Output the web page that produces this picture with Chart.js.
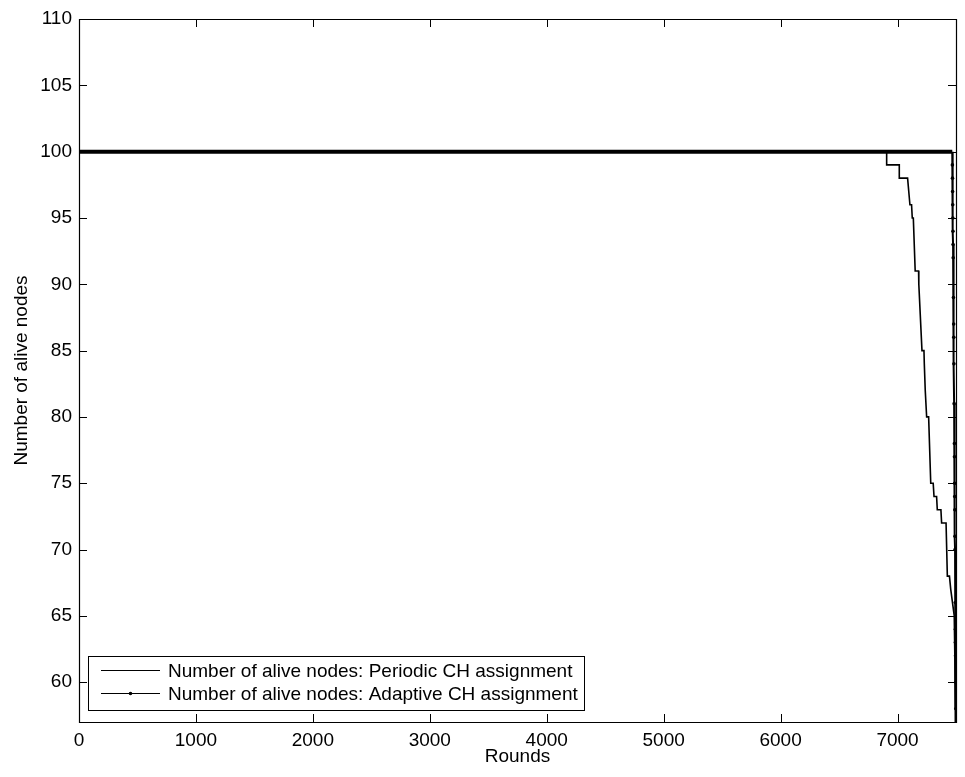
<!DOCTYPE html>
<html>
<head>
<meta charset="utf-8">
<script src="https://cdn.jsdelivr.net/npm/chart.js@4.4.1/dist/chart.umd.min.js"></script>
<style>
  html, body { margin: 0; padding: 0; background: #ffffff; }
  #wrap { width: 965px; height: 777px; position: relative; }
</style>
</head>
<body>
<div id="wrap"><canvas id="c" width="965" height="777"></canvas></div>
<script>
// Alive-node counts per round for the two cluster-head strategies
const periodicRounds = [0, 6907, 6907, 7015, 7015, 7086, 7106, 7120, 7126, 7135, 7151, 7180, 7182, 7209, 7226, 7229, 7237, 7249, 7266, 7284, 7305, 7312, 7334, 7340, 7371, 7377, 7415, 7426, 7444, 7455, 7485, 7490, 7494];
const periodicAlive  = [100, 100, 99, 99, 98, 98, 96, 96, 95, 95, 91, 91, 90, 85, 85, 84, 82, 80, 80, 75, 75, 74, 74, 73, 73, 72, 72, 68, 68, 67, 65, 62, 58];

const adaptiveRounds = [0, 7468, 7469, 7470, 7471, 7472, 7473, 7474, 7475, 7476, 7478, 7480, 7481, 7482, 7484, 7486, 7487, 7488, 7489, 7490, 7491, 7492, 7494, 7495, 7495, 7496, 7497, 7498, 7499];
const adaptiveAlive  = [100, 100, 99, 98, 97, 96, 95, 94, 93, 92, 89, 87, 86, 84, 81, 78, 77, 75, 74, 73, 71, 70, 66, 64, 63, 62, 60, 58, 56];

const seriesLabels = [
  'Number of alive nodes: Periodic CH assignment',
  'Number of alive nodes: Adaptive CH assignment'
];

const xTickValues = [0, 1000, 2000, 3000, 4000, 5000, 6000, 7000];
const yTickValues = [60, 65, 70, 75, 80, 85, 90, 95, 100, 105, 110];

const FONT = '"Liberation Sans", Arial, Helvetica, sans-serif';
const FONT_SIZE = 19;

const toPoints = (xs, ys) => xs.map((x, i) => ({ x: x, y: ys[i] }));

// MATLAB-style frame: full box with inward ticks on all four sides, plus boxed legend
const framePlugin = {
  id: 'frame',
  afterDatasetsDraw(chart) {
    const { ctx, chartArea: a, scales } = chart;
    const tl = 8;
    ctx.save();
    ctx.strokeStyle = '#000';
    ctx.lineWidth = 1.2;
    ctx.beginPath();
    ctx.rect(Math.round(a.left) + 0.5, Math.round(a.top) + 0.5,
             Math.round(a.right - a.left), Math.round(a.bottom - a.top));
    ctx.stroke();
    ctx.lineWidth = 1;
    ctx.beginPath();
    xTickValues.forEach(v => {
      const px = Math.round(scales.x.getPixelForValue(v)) + 0.5;
      ctx.moveTo(px, a.bottom); ctx.lineTo(px, a.bottom - tl);
      ctx.moveTo(px, a.top); ctx.lineTo(px, a.top + tl);
    });
    yTickValues.forEach(v => {
      const py = Math.round(scales.y.getPixelForValue(v)) + 0.5;
      ctx.moveTo(a.left, py); ctx.lineTo(a.left + tl, py);
      ctx.moveTo(a.right, py); ctx.lineTo(a.right - tl, py);
    });
    ctx.stroke();

    // legend box
    ctx.font = FONT_SIZE + 'px ' + FONT;
    const textX = 168;
    const maxW = Math.max(...seriesLabels.map(s => ctx.measureText(s).width));
    const bx = 88.5, by = 656.5, bw = Math.round(textX + maxW + 6 - 88), bh = 54;
    ctx.fillStyle = '#fff';
    ctx.fillRect(bx, by, bw, bh);
    ctx.strokeRect(bx, by, bw, bh);
    const rows = [670.5, 693.5];
    ctx.fillStyle = '#000';
    ctx.textBaseline = 'middle';
    ctx.textAlign = 'left';
    rows.forEach((ry, i) => {
      ctx.beginPath();
      ctx.moveTo(101, ry); ctx.lineTo(160, ry);
      ctx.stroke();
      if (i === 1) {
        ctx.beginPath();
        ctx.arc(130.5, ry, 1.8, 0, Math.PI * 2);
        ctx.fill();
      }
      ctx.fillText(chart.data.datasets[i].label, textX, ry + 1);
    });
    ctx.restore();
  }
};

new Chart(document.getElementById('c'), {
  type: 'line',
  data: {
    datasets: [
      {
        label: seriesLabels[0],
        data: toPoints(periodicRounds, periodicAlive),
        borderColor: '#000',
        borderWidth: 1.6,
        pointRadius: 0,
        tension: 0,
        fill: false
      },
      {
        label: seriesLabels[1],
        data: toPoints(adaptiveRounds, adaptiveAlive),
        borderColor: '#000',
        backgroundColor: '#000',
        borderWidth: 2,
        pointRadius: c => (c.raw && c.raw.y < 100 ? 1.8 : 0),
        pointBorderWidth: 0,
        pointBackgroundColor: '#000',
        tension: 0,
        fill: false,
        segment: {
          borderWidth: s => (s.p0.parsed.y === 100 && s.p1.parsed.y === 100 ? 4 : 2)
        }
      }
    ]
  },
  options: {
    responsive: false,
    animation: false,
    devicePixelRatio: 1,
    layout: { padding: { top: 19, right: 9, left: 0, bottom: 0 } },
    plugins: {
      legend: { display: false },
      tooltip: { enabled: false }
    },
    scales: {
      x: {
        type: 'linear',
        min: 0,
        max: 7500,
        afterBuildTicks: s => { s.ticks = xTickValues.map(v => ({ value: v })); },
        afterFit: s => { s.height = 55; },
        grid: { display: false, drawTicks: false },
        border: { display: false },
        ticks: {
          color: '#000',
          padding: 7,
          maxRotation: 0,
          callback: v => String(v),
          font: { family: FONT, size: FONT_SIZE }
        },
        title: {
          display: true,
          text: 'Rounds',
          color: '#000',
          font: { family: FONT, size: FONT_SIZE },
          padding: { top: 0, bottom: 9 }
        }
      },
      y: {
        type: 'linear',
        min: 57,
        max: 110,
        afterBuildTicks: s => { s.ticks = yTickValues.map(v => ({ value: v })); },
        afterFit: s => { s.width = 79; },
        grid: { display: false, drawTicks: false },
        border: { display: false },
        ticks: {
          color: '#000',
          padding: 7,
          callback: v => String(v),
          font: { family: FONT, size: FONT_SIZE }
        },
        title: {
          display: true,
          text: 'Number of alive nodes',
          color: '#000',
          font: { family: FONT, size: FONT_SIZE },
          padding: { top: 10, bottom: 0 }
        }
      }
    }
  },
  plugins: [framePlugin]
});
</script>
</body>
</html>
